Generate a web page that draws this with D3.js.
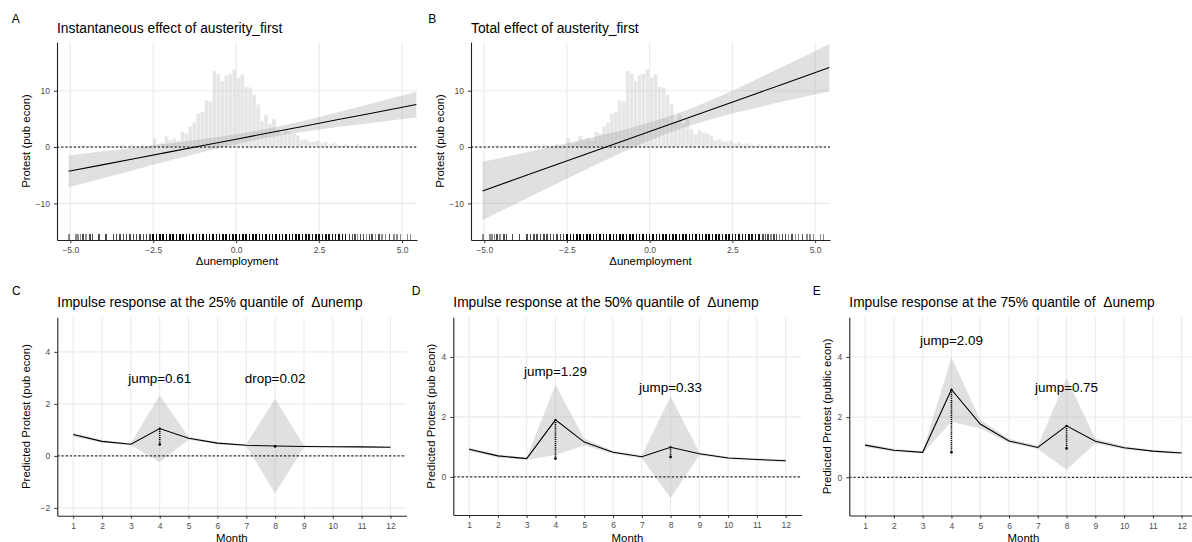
<!DOCTYPE html>
<html>
<head>
<meta charset="utf-8">
<script src="https://cdn.jsdelivr.net/npm/d3@7"></script>
<style>
  body { margin: 0; background: #fff; }
</style>
</head>
<body>
<svg id="chart" width="1192" height="542"></svg>
<script>
// ---- panels A / B: effect of austerity_first along Δunemployment ----
const effectX  = [-5.05, -4, -3, -2, -1, 0, 1, 2, 3, 4, 5.43];
const instFit  = [-4.31, -3.12, -1.99, -0.86, 0.27, 1.40, 2.53, 3.66, 4.79, 5.92, 7.54];
const instLo   = [-7.13, -5.48, -3.92, -2.38, -0.88, 0.52, 1.73, 2.69, 3.50, 4.24, 5.25];
const instHi   = [-1.49, -0.76, -0.06, 0.66, 1.42, 2.28, 3.33, 4.63, 6.08, 7.60, 9.83];
const totalFit = [-7.79, -5.60, -3.51, -1.42, 0.67, 2.76, 4.85, 6.94, 9.03, 11.12, 14.11];
const totalLo  = [-12.95, -9.92, -7.04, -4.20, -1.43, 1.15, 3.39, 5.16, 6.67, 8.05, 9.92];
const totalHi  = [-2.63, -1.28, 0.02, 1.36, 2.77, 4.37, 6.31, 8.72, 11.39, 14.19, 18.30];

// histogram of Δunemployment (bin left edge, scaled height)
const histBin = 0.12;
const histLeft = [-4.68, -4.44, -4.20, -3.96, -3.84, -3.60, -3.48, -3.24, -3.12, -3.00, -2.88, -2.76, -2.64,
  -2.52, -2.40, -2.28, -2.16, -2.04, -1.92, -1.80, -1.68, -1.56, -1.44, -1.32, -1.20, -1.08, -0.96, -0.84,
  -0.72, -0.60, -0.48, -0.36, -0.24, -0.12, 0.00, 0.12, 0.24, 0.36, 0.48, 0.60, 0.72, 0.84, 0.96, 1.08,
  1.20, 1.32, 1.44, 1.56, 1.68, 1.80, 1.92, 2.04, 2.16, 2.28, 2.40, 2.52, 2.64, 2.76, 2.88, 3.00, 3.12,
  3.24, 3.36, 3.60, 3.72, 3.96, 4.20, 4.44, 4.68, 5.04];
const histHeight = [0.4, 0.35, 0.3, 0.3, 0.25, 0.3, 0.45, 0.5, 0.3, 0.3, 0.5, 0.2, 0.3,
  1.6, 0.5, 0.85, 1.95, 1.3, 1.6, 1.1, 2.7, 2.4, 3.7, 4.4, 6.0, 6.3, 8.3, 8.1,
  13.5, 13.0, 11.8, 12.8, 13.0, 13.8, 12.3, 12.9, 10.7, 10.6, 9.3, 7.6, 4.7, 5.7, 4.2, 5.0,
  3.2, 2.3, 3.0, 2.6, 2.4, 2.1, 1.2, 1.4, 1.0, 1.0, 1.2, 0.7, 0.9, 0.5, 0.7, 0.4, 0.3,
  0.5, 0.3, 0.5, 0.3, 0.3, 0.3, 0.3, 0.2, 0.4];

// rug of observed Δunemployment values and how many observations overlap
const rugX = [-5.04, -4.83, -4.76, -4.69, -4.61, -4.53, -4.41, -4.33, -4.14, -3.93,
  -3.7, -3.6, -3.5, -3.4, -3.3, -3.2, -3.1, -3.0, -2.9, -2.8, -2.7, -2.6,
  -2.5, -2.4, -2.3, -2.2, -2.1, -2.0, -1.9, -1.8, -1.7, -1.6, -1.5, -1.4, -1.3, -1.2, -1.1, -1.0,
  -0.9, -0.8, -0.7, -0.6, -0.5, -0.4, -0.3, -0.2, -0.1, 0.0, 0.1, 0.2, 0.3, 0.4, 0.5, 0.6, 0.7,
  0.8, 0.9, 1.0, 1.1, 1.2, 1.3, 1.4, 1.5, 1.6, 1.7, 1.8, 1.9, 2.0,
  2.1, 2.2, 2.3, 2.4, 2.5, 2.6, 2.7, 2.8, 2.9, 3.0, 3.1, 3.2, 3.3,
  3.42, 3.5, 3.58, 3.66, 3.75, 3.84, 3.93, 4.02, 4.1, 4.2, 4.3, 4.4, 4.5, 4.62, 4.75, 4.85, 4.95, 5.16, 5.25];
const rugN = [1, 1, 1, 1, 2, 1, 2, 2, 2, 2,
  2, 2, 2, 2, 2, 2, 2, 2, 2, 2, 2, 2,
  6, 6, 6, 6, 6, 6, 6, 6, 6, 6, 6, 6, 6, 6, 6, 6,
  6, 6, 6, 6, 6, 6, 6, 6, 6, 6, 6, 6, 6, 6, 6, 6, 6,
  6, 6, 6, 6, 6, 6, 6, 6, 6, 6, 6, 6, 6,
  4, 4, 4, 4, 4, 4, 4, 4, 4, 4, 4, 4, 4,
  2, 2, 2, 1, 2, 2, 1, 2, 2, 1, 2, 1, 1, 2, 1, 1, 1, 1, 1];

const effectXTicks = [-5, -2.5, 0, 2.5, 5];
const effectYTicks = [-10, 0, 10];

// ---- panels C / D / E: impulse responses by month ----
const months = [1, 2, 3, 4, 5, 6, 7, 8, 9, 10, 11, 12];
const fit25 = [0.82, 0.56, 0.45, 1.05, 0.68, 0.49, 0.41, 0.38, 0.36, 0.35, 0.345, 0.33];
const lo25  = [0.75, 0.51, 0.41, -0.23, 0.62, 0.45, 0.37, -1.44, 0.33, 0.32, 0.31, 0.30];
const hi25  = [0.89, 0.61, 0.49, 2.33, 0.74, 0.53, 0.45, 2.20, 0.39, 0.38, 0.38, 0.36];
const fit50 = [0.92, 0.70, 0.61, 1.90, 1.16, 0.82, 0.67, 0.99, 0.77, 0.63, 0.58, 0.54];
const lo50  = [0.86, 0.65, 0.57, 0.73, 1.05, 0.77, 0.62, -0.70, 0.72, 0.59, 0.54, 0.50];
const hi50  = [0.98, 0.75, 0.65, 3.07, 1.27, 0.87, 0.72, 2.68, 0.82, 0.67, 0.62, 0.58];
const fit75 = [1.07, 0.90, 0.83, 2.92, 1.77, 1.21, 0.99, 1.71, 1.20, 0.98, 0.87, 0.81];
const lo75  = [1.01, 0.85, 0.79, 1.85, 1.62, 1.14, 0.94, 0.25, 1.12, 0.93, 0.83, 0.77];
const hi75  = [1.13, 0.95, 0.87, 3.98, 1.92, 1.28, 1.04, 3.30, 1.28, 1.03, 0.91, 0.85];

const shockMonths = [4, 8];
const base25 = [0.44, 0.36];
const base50 = [0.61, 0.66];
const base75 = [0.83, 0.96];
const labels25 = ['jump=0.61', 'drop=0.02'];
const labels50 = ['jump=1.29', 'jump=0.33'];
const labels75 = ['jump=2.09', 'jump=0.75'];
const labelY25 = [2.92, 2.92];
const labelY50 = [3.49, 2.96];
const labelY75 = [4.51, 2.96];

const FONT = '"Liberation Sans", Arial, Helvetica, sans-serif';
const svg = d3.select('#chart');

function grid(box, x, y, xt, yt) {
  const g = svg.append('g');
  g.selectAll('line.gx').data(xt).join('line').attr('class', 'gx')
    .attr('x1', d => x(d)).attr('x2', d => x(d))
    .attr('y1', box.top).attr('y2', box.bottom)
    .attr('stroke', '#ebebeb').attr('stroke-width', 1.1);
  g.selectAll('line.gy').data(yt).join('line').attr('class', 'gy')
    .attr('x1', box.left).attr('x2', box.right)
    .attr('y1', d => y(d)).attr('y2', d => y(d))
    .attr('stroke', '#ebebeb').attr('stroke-width', 1.1);
}

function axes(box, x, y, xt, yt, xFmt) {
  const xa = svg.append('g').attr('transform', `translate(0,${box.bottom})`)
    .call(d3.axisBottom(x).tickValues(xt).tickFormat(xFmt).tickSize(3).tickSizeOuter(0).tickPadding(4));
  const ya = svg.append('g').attr('transform', `translate(${box.left},0)`)
    .call(d3.axisLeft(y).tickValues(yt).tickFormat(d3.format('d')).tickSize(3).tickSizeOuter(0).tickPadding(4));
  [xa, ya].forEach(a => {
    a.attr('font-family', FONT).attr('font-size', 8.5);
    a.select('.domain').attr('stroke', '#222').attr('stroke-width', 1.1);
    a.selectAll('.tick line').attr('stroke', '#333').attr('stroke-width', 1);
    a.selectAll('.tick text').attr('fill', '#4d4d4d');
  });
}

function texts(box, letter, lx, ly, title, titleY, xlab, xlabY, ylab, ylabX) {
  svg.append('text').attr('x', lx).attr('y', ly).text(letter)
    .attr('font-family', FONT).attr('font-size', 12).attr('fill', '#000');
  svg.append('text').attr('x', box.left).attr('y', titleY).text(title)
    .attr('font-family', FONT).attr('font-size', 13.8).attr('fill', '#000')
    .style('white-space', 'pre');
  svg.append('text').attr('x', (box.left + box.right) / 2).attr('y', xlabY).text(xlab)
    .attr('text-anchor', 'middle').attr('font-family', FONT).attr('font-size', 11.4);
  svg.append('text')
    .attr('transform', `translate(${ylabX},${(box.top + box.bottom) / 2}) rotate(-90)`)
    .attr('text-anchor', 'middle').text(ylab)
    .attr('font-family', FONT).attr('font-size', 11.4);
}

function clip(id, box) {
  svg.append('clipPath').attr('id', id).append('rect')
    .attr('x', box.left).attr('y', box.top)
    .attr('width', box.right - box.left).attr('height', box.bottom - box.top);
  return svg.append('g').attr('clip-path', `url(#${id})`);
}

function drawEffect(box, letter, lx, title, fit, lo, hi, ylabX) {
  const x = d3.scaleLinear().domain([-5.4, 5.45]).range([box.left, box.right]);
  const y = d3.scaleLinear().domain([-16.5, 18.65]).range([box.bottom, box.top]);
  grid(box, x, y, effectXTicks, effectYTicks);
  const g = clip('clip' + letter, box);

  // histogram
  g.selectAll('rect.bar').data(histLeft).join('rect').attr('class', 'bar')
    .attr('x', d => x(d)).attr('width', d => x(d + histBin) - x(d))
    .attr('y', (d, i) => y(histHeight[i]))
    .attr('height', (d, i) => y(0) - y(histHeight[i]))
    .attr('fill', '#bdbdbd').attr('fill-opacity', 0.38)
    .attr('stroke', '#fff').attr('stroke-width', 0.5).attr('stroke-opacity', 0.7);

  const pts = effectX.map((v, i) => ({ x: v, fit: fit[i], lo: lo[i], hi: hi[i] }));
  g.append('path').datum(pts)
    .attr('d', d3.area().x(d => x(d.x)).y0(d => y(d.lo)).y1(d => y(d.hi)).curve(d3.curveMonotoneX))
    .attr('fill', '#999').attr('fill-opacity', 0.3);
  g.append('path').datum(pts)
    .attr('d', d3.line().x(d => x(d.x)).y(d => y(d.fit)))
    .attr('fill', 'none').attr('stroke', '#000').attr('stroke-width', 1.1);

  g.append('line').attr('x1', box.left).attr('x2', box.right)
    .attr('y1', y(0)).attr('y2', y(0))
    .attr('stroke', '#000').attr('stroke-width', 1).attr('stroke-dasharray', '2.2,2');

  // rug (crisp so overlapping observations read as solid ticks)
  const rugLen = 0.03 * (box.bottom - box.top);
  g.selectAll('line.rug').data(rugX).join('line').attr('class', 'rug')
    .attr('x1', d => x(d)).attr('x2', d => x(d))
    .attr('y1', box.bottom).attr('y2', box.bottom - rugLen)
    .attr('stroke', '#000').attr('stroke-width', 1.5)
    .attr('shape-rendering', 'crispEdges')
    .attr('stroke-opacity', (d, i) => 1 - Math.pow(0.55, rugN[i]));

  axes(box, x, y, effectXTicks, effectYTicks, d3.format('.1f'));
  texts(box, letter, lx, 22.7, title, 32.5, 'Δunemployment', 265, 'Protest (pub econ)', ylabX);
}

function drawImpulse(box, letter, lx, title, ylab, ylabX, yDomain, yTicks, fit, lo, hi, base, labels, labelY) {
  const x = d3.scaleLinear().domain([0.45, 12.55]).range([box.left, box.right]);
  const y = d3.scaleLinear().domain(yDomain).range([box.bottom, box.top]);
  grid(box, x, y, months, yTicks);
  const g = clip('clip' + letter, box);

  const pts = months.map((m, i) => ({ m, fit: fit[i], lo: lo[i], hi: hi[i] }));
  g.append('path').datum(pts)
    .attr('d', d3.area().x(d => x(d.m)).y0(d => y(d.lo)).y1(d => y(d.hi)))
    .attr('fill', '#a6a6a6').attr('fill-opacity', 0.35);

  g.append('line').attr('x1', box.left).attr('x2', box.right)
    .attr('y1', y(0)).attr('y2', y(0))
    .attr('stroke', '#000').attr('stroke-width', 1).attr('stroke-dasharray', '2.2,2');

  g.append('path').datum(pts)
    .attr('d', d3.line().x(d => x(d.m)).y(d => y(d.fit)))
    .attr('fill', 'none').attr('stroke', '#000').attr('stroke-width', 1.1);

  // dotted jump segments
  shockMonths.forEach((m, i) => {
    const top = fit[months.indexOf(m)];
    g.append('line').attr('x1', x(m)).attr('x2', x(m))
      .attr('y1', y(top)).attr('y2', y(base[i]))
      .attr('stroke', '#000').attr('stroke-width', 1.6).attr('stroke-dasharray', '1.2,0.9');
    g.append('circle').attr('cx', x(m)).attr('cy', y(base[i])).attr('r', 1.3).attr('fill', '#000');
    g.append('circle').attr('cx', x(m)).attr('cy', y(top)).attr('r', 1.1).attr('fill', '#000');
    svg.append('text').attr('x', x(m)).attr('y', y(labelY[i]) + 3.4)
      .attr('text-anchor', 'middle').text(labels[i])
      .attr('font-family', FONT).attr('font-size', 13.4).attr('fill', '#000');
  });

  axes(box, x, y, months, yTicks, d3.format('d'));
  texts(box, letter, lx, 294.5, title, 307, 'Month', 541.5, ylab, ylabX);
}

drawEffect({ left: 57, right: 417, top: 42, bottom: 240 }, 'A', 11.7,
  'Instantaneous effect of austerity_first', instFit, instLo, instHi, 30);
drawEffect({ left: 471, right: 830, top: 42, bottom: 240 }, 'B', 428.3,
  'Total effect of austerity_first', totalFit, totalLo, totalHi, 444.3);

drawImpulse({ left: 57.3, right: 406.4, top: 317.3, bottom: 515.7 }, 'C', 12,
  'Impulse response at the 25% quantile of  Δunemp', 'Predicted Protest (pub econ)', 30,
  [-2.3, 5.33], [-2, 0, 2, 4], fit25, lo25, hi25, base25, labels25, labelY25);
drawImpulse({ left: 453.3, right: 801.5, top: 317.3, bottom: 515 }, 'D', 411.7,
  'Impulse response at the 50% quantile of  Δunemp', 'Predicted Protest (pub econ)', 435,
  [-1.27, 5.32], [0, 2, 4], fit50, lo50, hi50, base50, labels50, labelY50);
drawImpulse({ left: 849.3, right: 1197.5, top: 317.3, bottom: 515.5 }, 'E', 812.7,
  'Impulse response at the 75% quantile of  Δunemp', 'Predicted Protest (public econ)', 831,
  [-1.27, 5.32], [0, 2, 4], fit75, lo75, hi75, base75, labels75, labelY75);
</script>
</body>
</html>
